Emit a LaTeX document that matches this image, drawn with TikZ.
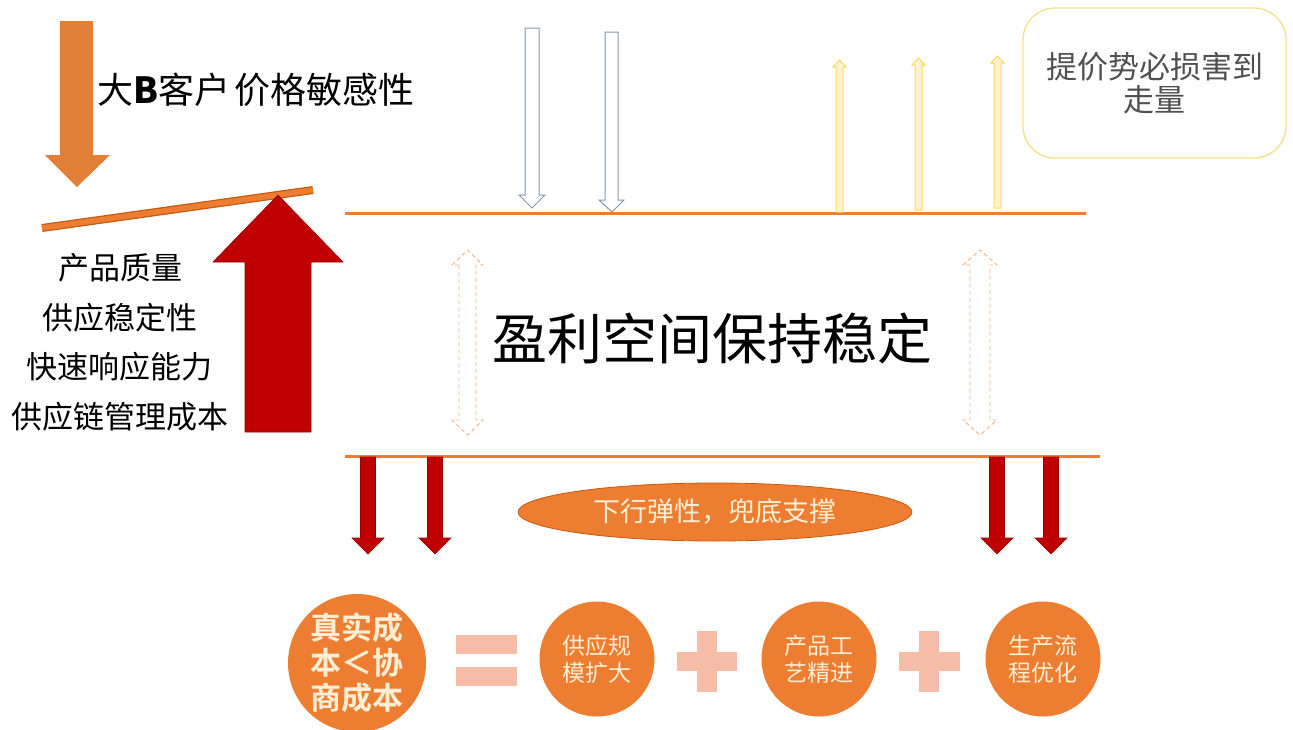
\documentclass[tikz,border=0pt]{standalone}
\usepackage{fontspec}
\newfontfamily\hei{Noto Sans CJK SC}
\newfontfamily\song{Noto Sans CJK SC}
\newfontfamily\songb{Noto Sans CJK SC Bold}
\usetikzlibrary{shapes.geometric}
\definecolor{orgA}{HTML}{E27F36}
\definecolor{orgL}{HTML}{ED7D31}
\definecolor{orgD}{HTML}{C55A11}
\definecolor{redA}{HTML}{C00000}
\definecolor{blueO}{HTML}{8497B0}
\definecolor{yelO}{HTML}{FFD966}
\definecolor{yelF}{HTML}{FFF2CC}
\definecolor{boxO}{HTML}{F5E08A}
\definecolor{dashO}{HTML}{F4B183}
\definecolor{pinkS}{HTML}{F5BCA8}
\definecolor{cream}{HTML}{FCEFD6}
\definecolor{grayT}{HTML}{505050}
\tikzset{
  redarrow/.style={fill=redA, draw=redA!80!black, line width=0.6pt},
  hollowblue/.style={fill=white, draw=blueO, line width=1pt},
  yelarrow/.style={fill=yelF, draw=yelO, line width=1pt},
  dasharrow/.style={draw=dashO, dash pattern=on 4pt off 3pt, line width=0.9pt},
  hline/.style={draw=orgL, line width=3pt},
  circ/.style={circle, fill=orgL, draw=none, text=cream, align=center},
  bar/.style={fill=pinkS, draw=none},
  listtext/.style={font=\song\fontsize{31}{34}\selectfont},
}
\begin{document}
\begin{tikzpicture}[x=1pt,y=-1pt]
\useasboundingbox (0,0) rectangle (1293,729);
% top-left orange down arrow
\fill[orgA] (60,21)--(93,21)--(93,155)--(110,155)--(77,187)--(45,155)--(60,155)--cycle;
\node[anchor=west, font=\hei\fontsize{36}{40}\selectfont] (sens) at (94,90) {大\textbf{B}客户\hspace{4pt}价格敏感性};
% lever
\coordinate (levA) at (42,228);
\coordinate (levB) at (313,190);
\draw[draw=orgD, line width=8pt] (levA)--(levB);
\draw[draw=orgL, line width=5.5pt] (levA)--(levB);
% big red up arrow
\draw[redarrow] (245,432)--(245,262)--(213,262)--(278,195)--(343,262)--(311,262)--(311,432)--cycle;
% left list
\node[listtext] (l1) at (120,268) {产品质量};
\node[listtext] (l2) at (120,318) {供应稳定性};
\node[listtext] (l3) at (120,367) {快速响应能力};
\node[listtext] (l4) at (120,417) {供应链管理成本};
% horizontal lines
\coordinate (t1) at (345,213); \coordinate (t2) at (1086,213);
\coordinate (b1) at (345,456); \coordinate (b2) at (1100,456);
\draw[hline] (t1)--(t2);
\draw[hline] (b1)--(b2);
% hollow blue down arrows
\draw[hollowblue] (525,28)--(539,28)--(539,195)--(545,195)--(532,208)--(519,195)--(525,195)--cycle;
\draw[hollowblue] (605,32)--(618,32)--(618,200)--(624,200)--(612,212)--(599,200)--(605,200)--cycle;
% yellow up arrows
\draw[yelarrow] (836,212)--(836,67)--(833,67)--(839.5,60)--(846,67)--(843,67)--(843,212)--cycle;
\draw[yelarrow] (915,210)--(915,65)--(912,65)--(918.5,58)--(925,65)--(922,65)--(922,210)--cycle;
\draw[yelarrow] (994,208)--(994,63)--(991,63)--(997.5,56)--(1004,63)--(1001,63)--(1001,208)--cycle;
% rounded box
\draw[draw=boxO, line width=1.3pt, rounded corners=32pt] (1023,8) rectangle (1286,158);
\node[font=\hei\fontsize{31}{33}\selectfont, text=grayT, align=center] (box) at (1154.5,83) {提价势必损害到\\走量};
% dashed double arrows
\draw[dasharrow] (459,265)--(452,265)--(467.5,250)--(483,265)--(476,265)--(476,420)--(483,420)--(467.5,435)--(452,420)--(459,420)--cycle;
\draw[dasharrow] (970,265)--(963,265)--(980,250)--(997,265)--(990,265)--(990,420)--(997,420)--(980,435)--(963,420)--(970,420)--cycle;
% title
\node[font=\song\fontsize{55}{60}\selectfont] (title) at (712,338) {盈利空间保持稳定};
% red down arrows
\foreach \cx/\nm in {368/d1, 435/d2, 997/d3, 1051/d4}{
  \draw[redarrow] (\cx-7.5,457)--(\cx+7.5,457)--(\cx+7.5,538)--(\cx+16,538)--(\cx,554)--(\cx-16,538)--(\cx-7.5,538)--cycle;
}
% ellipse
\node[ellipse, fill=orgL, draw=orgD, line width=0.8pt, minimum width=394pt, minimum height=58pt, inner sep=0pt, text=cream, font=\hei\fontsize{27}{30}\selectfont] (ell) at (715,512) {下行弹性，兜底支撑};
% circles
\node[circ, minimum size=138pt, inner sep=0pt, font=\songb\fontsize{31}{35}\selectfont] (c1) at (357,663) {真实成\\本＜协\\商成本};
\node[circ, minimum size=115pt, inner sep=0pt, font=\hei\fontsize{23}{27}\selectfont] (c2) at (597,659) {供应规\\模扩大};
\node[circ, minimum size=115pt, inner sep=0pt, font=\hei\fontsize{23}{27}\selectfont] (c3) at (819,659) {产品工\\艺精进};
\node[circ, minimum size=115pt, inner sep=0pt, font=\hei\fontsize{23}{27}\selectfont] (c4) at (1043,659) {生产流\\程优化};
% equals
\fill[bar] (456,635) rectangle (517,654);
\fill[bar] (456,667) rectangle (517,686);
% plus signs
\fill[bar] (677,652) rectangle (737,671);
\fill[bar] (697,631) rectangle (717,692);
\fill[bar] (899,652) rectangle (960,671);
\fill[bar] (919,631) rectangle (939,692);
\end{tikzpicture}
\end{document}
